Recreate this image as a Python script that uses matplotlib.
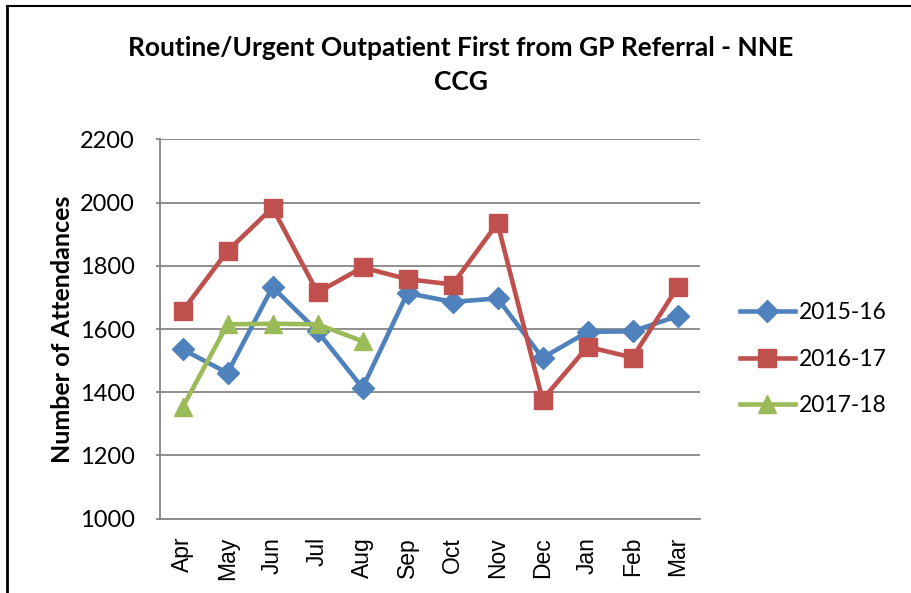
import matplotlib
matplotlib.use("Agg")
import matplotlib.pyplot as plt
from matplotlib.lines import Line2D

months = ['Apr', 'May', 'Jun', 'Jul', 'Aug', 'Sep', 'Oct', 'Nov', 'Dec', 'Jan', 'Feb', 'Mar']
y1516 = [1536, 1461, 1733, 1593, 1414, 1714, 1686, 1697, 1509, 1591, 1593, 1641]
y1617 = [1657, 1847, 1984, 1716, 1795, 1758, 1741, 1935, 1377, 1544, 1510, 1732]
y1718 = [1352, 1615, 1617, 1615, 1562]
yticks = [1000, 1200, 1400, 1600, 1800, 2000, 2200]

fig = plt.figure(figsize=(9.11, 5.93), dpi=100)
ax = fig.add_axes([160 / 911, 0.1253, 540 / 911, 0.6395])

x = list(range(len(months)))
ax.plot(x, y1516, color='#4F81BD', lw=3.3, marker='D', ms=11.5, label='2015-16', zorder=3)
ax.plot(x, y1617, color='#C0504D', lw=3.3, marker='s', ms=13.5, label='2016-17', zorder=3)
ax.plot(x[:len(y1718)], y1718, color='#9BBB59', lw=3.3, marker='^', ms=13.5, label='2017-18', zorder=4)

ax.set_xlim(-0.5, 11.5)
ax.set_ylim(1000, 2200)
ax.set_yticks(yticks)
ax.set_xticks(x)
ax.set_xticklabels(months, rotation=90, family='Liberation Sans', fontsize=16.5)
ax.set_yticklabels([str(v) for v in yticks], family='Lato', fontsize=17)
ax.tick_params(axis='x', length=0, pad=13)
ax.tick_params(axis='y', length=3, color='#868686', width=1.3, pad=15)
ax.grid(axis='y', color='#868686', lw=1.3)
ax.set_axisbelow(True)
for s in ['top', 'right']:
    ax.spines[s].set_visible(False)
for s in ['left', 'bottom']:
    ax.spines[s].set_color('#868686')
    ax.spines[s].set_linewidth(1.3)

ax.set_ylabel('Number of Attendances', family='Lato', fontweight='bold', fontsize=18, labelpad=4)

fig.text(461 / 911, 1 - 65 / 593,
         'Routine/Urgent Outpatient First from GP Referral - NNE\nCCG',
         ha='center', va='center', family='Lato', fontweight='bold', fontsize=19, linespacing=1.5)

leg = ax.legend(loc='center left', bbox_to_anchor=(1.035, 0.421), frameon=False,
                prop={'family': 'Lato', 'size': 16.5}, handlelength=2.4, labelspacing=1.1,
                handletextpad=0.2)

# chart frame (top and left edges visible in crop)
fig.add_artist(Line2D([7 / 911, 1], [1 - 6 / 593, 1 - 6 / 593], color='black', lw=1.5))
fig.add_artist(Line2D([7 / 911, 7 / 911], [0, 1 - 6 / 593], color='black', lw=2))

fig.savefig('out.png', dpi=100)
